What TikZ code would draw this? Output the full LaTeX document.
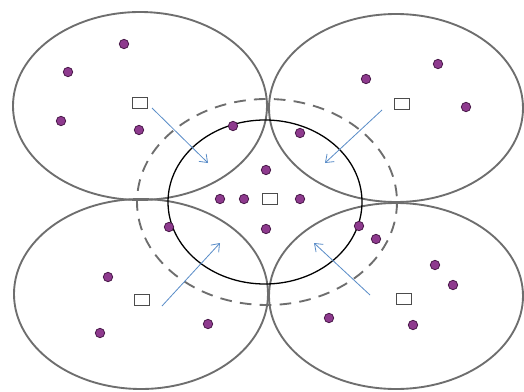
\documentclass[tikz,border=0pt]{standalone}
\usepackage{tikz}
\usetikzlibrary{arrows.meta, positioning}
\definecolor{mGray}{HTML}{6E6E6E}
\definecolor{mBlue}{HTML}{5B8DC8}
\definecolor{mPurple}{HTML}{8E3A8E}
\definecolor{mDark}{HTML}{4A1A4A}

\begin{document}
\begin{tikzpicture}[x=0.03cm, y=-0.03cm,
      cell/.style={draw=mGray, line width=1.6pt},
      dot/.style={circle, draw=mDark, fill=mPurple, line width=0.7pt, inner sep=0pt, minimum size=8pt},
      sink/.style={draw=black!70, fill=white, line width=1.2pt, inner sep=0pt, minimum width=12.5pt, minimum height=9pt},
      mv/.style={-{Straight Barb[length=6pt, width=9pt]}, mBlue, line width=0.7pt}]
    \useasboundingbox (0,0) rectangle (524,392);
    % four cells
    \draw[cell] (140,106) ellipse [x radius=127, y radius=94];
    \draw[cell] (396,108) ellipse [x radius=127, y radius=94];
    \draw[cell] (141,294) ellipse [x radius=127, y radius=95];
    \draw[cell] (396,296) ellipse [x radius=127, y radius=93];
    % target region
    \draw[mGray, line width=1.6pt, dash pattern=on 10pt off 7pt] (267,202) ellipse [x radius=130, y radius=103];
    \draw[black, line width=1.1pt] (265,202) ellipse [x radius=97, y radius=82];
    % sensor nodes
    \foreach \x/\y [count=\k] in {124/44, 68/72, 61/121, 139/130, 233/126,
        438/64, 366/79, 466/107, 300/133,
        266/170, 220/199, 244/199, 300/199, 266/229,
        169/227, 359/226, 376/239,
        108/277, 100/333, 208/324,
        435/265, 453/285, 329/318, 413/325} {
      \node[dot] (d\k) at (\x,\y) {};
    }
    % heads
    \node[sink] (sTL) at (140,103) {};
    \node[sink] (sTR) at (402,104) {};
    \node[sink] (sBL) at (142,300) {};
    \node[sink] (sBR) at (404,299) {};
    \node[sink] (sC)  at (270,199) {};
    % moves
    \coordinate (aTL) at (152,108); \coordinate (bTL) at (208,163);
    \coordinate (aTR) at (382,110); \coordinate (bTR) at (325,163);
    \coordinate (aBL) at (162,306); \coordinate (bBL) at (220,243);
    \coordinate (aBR) at (370,295); \coordinate (bBR) at (314,243);
    \draw[mv] (aTL) -- (bTL);
    \draw[mv] (aTR) -- (bTR);
    \draw[mv] (aBL) -- (bBL);
    \draw[mv] (aBR) -- (bBR);
  \end{tikzpicture}
\end{document}
